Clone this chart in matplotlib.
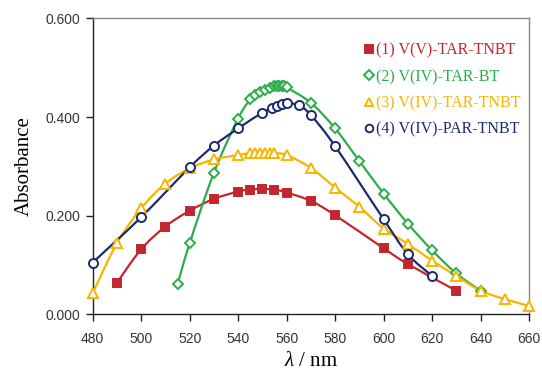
import numpy as np
import matplotlib
matplotlib.use("Agg")
import matplotlib.pyplot as plt
from matplotlib.path import Path
from matplotlib.patches import PathPatch

plt.rcParams["mathtext.fontset"] = "custom"
plt.rcParams["mathtext.it"] = "Liberation Serif:italic"
plt.rcParams["mathtext.rm"] = "Liberation Serif"

# ---- data ----
x1 = [490, 500, 510, 520, 530, 540, 545, 550, 555, 560, 570, 580, 600, 610, 630]
y1 = [0.064, 0.132, 0.178, 0.210, 0.234, 0.249, 0.253, 0.254, 0.253, 0.247, 0.230, 0.201, 0.134, 0.102, 0.048]

x2 = [515, 520, 530, 540, 545, 547, 549, 551, 553, 555, 556, 557, 558, 559, 560, 570, 580, 590, 600, 610, 620, 630, 640]
y2 = [0.061, 0.144, 0.287, 0.397, 0.436, 0.445, 0.451, 0.455, 0.459, 0.462, 0.463, 0.463, 0.463, 0.462, 0.460,
      0.429, 0.377, 0.311, 0.245, 0.184, 0.130, 0.083, 0.048]

x3 = [480, 490, 500, 510, 520, 530, 540, 545, 547, 549, 551, 553, 555, 560, 570, 580, 590, 600, 610, 620, 630, 640, 650, 660]
y3 = [0.043, 0.144, 0.215, 0.265, 0.296, 0.314, 0.323, 0.327, 0.328, 0.328, 0.328, 0.328, 0.327, 0.323,
      0.297, 0.257, 0.218, 0.174, 0.143, 0.109, 0.078, 0.048, 0.031, 0.017]

x4 = [480, 500, 520, 530, 540, 550, 554, 556, 558, 560, 565, 570, 580, 600, 610, 620]
y4 = [0.105, 0.197, 0.298, 0.342, 0.377, 0.409, 0.418, 0.423, 0.427, 0.428, 0.424, 0.404, 0.341, 0.193, 0.122, 0.078]

labels = ["(1) V(V)-TAR-TNBT", "(2) V(IV)-TAR-BT", "(3) V(IV)-TAR-TNBT", "(4) V(IV)-PAR-TNBT"]
xticks = [480, 500, 520, 540, 560, 580, 600, 620, 640, 660]
yticks = [0.0, 0.2, 0.4, 0.6]

colors = ["#C1272D", "#2BAE4A", "#F7B500", "#1E2A6E"]
markers = ["s", "D", "^", "o"]
msizes = [5.5, 5.5, 7, 6.5]
fills = [True, False, False, False]


def smooth_path(xs, ys, t=1.0 / 6.0):
    """Excel-like smoothed line (cubic Bezier through the data points)."""
    xs = np.asarray(xs, float)
    ys = np.asarray(ys, float)
    n = len(xs)
    verts = [(xs[0], ys[0])]
    codes = [Path.MOVETO]
    for i in range(n - 1):
        p0 = np.array([xs[max(i - 1, 0)], ys[max(i - 1, 0)]])
        p1 = np.array([xs[i], ys[i]])
        p2 = np.array([xs[i + 1], ys[i + 1]])
        p3 = np.array([xs[min(i + 2, n - 1)], ys[min(i + 2, n - 1)]])
        c1 = p1 + (p2 - p0) * t
        c2 = p2 - (p3 - p1) * t
        verts += [tuple(c1), tuple(c2), tuple(p2)]
        codes += [Path.CURVE4] * 3
    return Path(verts, codes)


fig = plt.figure(figsize=(5.42, 3.76), dpi=100)
ax = fig.add_axes([0.171, 0.164, 0.805, 0.787])

series = [(x1, y1), (x2, y2), (x3, y3), (x4, y4)]
for (xs, ys), c, m, ms, f, lab in zip(series, colors, markers, msizes, fills, labels):
    patch = PathPatch(smooth_path(xs, ys), facecolor="none", edgecolor=c, lw=1.6, zorder=2)
    ax.add_patch(patch)
    ax.plot(xs, ys, linestyle="none", marker=m, ms=ms, mec=c, mew=1.4,
            mfc=c if f else "white", label=lab, zorder=3, clip_on=False)

ax.set_xlim(480, 660)
ax.set_ylim(0, 0.6)
ax.set_xticks(xticks)
ax.set_yticks(yticks)
ax.set_xticklabels([str(v) for v in xticks])
ax.set_yticklabels(["%.3f" % v for v in yticks])

tick_color = "#333340"
ax.tick_params(axis="both", direction="out", length=5, width=1, colors="#222222",
               labelsize=10, labelcolor=tick_color)
ax.tick_params(axis="x", pad=8)
ax.tick_params(axis="y", pad=4)
for lbl in ax.get_xticklabels() + ax.get_yticklabels():
    lbl.set_family("Liberation Sans")

ax.spines["left"].set_color("#222222")
ax.spines["bottom"].set_color("#222222")
ax.spines["top"].set_color("#888888")
ax.spines["right"].set_color("#888888")
for s in ax.spines.values():
    s.set_linewidth(1.0)

ax.set_xlabel(r"$\lambda$ / nm", family="Liberation Serif", fontsize=15, labelpad=4)
ax.set_ylabel("Absorbance", family="Liberation Serif", fontsize=15, labelpad=8)

leg = ax.legend(loc="upper right", bbox_to_anchor=(0.995, 0.94), frameon=False,
                prop={"family": "Liberation Serif", "size": 11.5},
                handlelength=0.6, handletextpad=0.15, labelspacing=0.65, borderaxespad=0.0)
for txt, c in zip(leg.get_texts(), colors):
    txt.set_color(c)
for h in leg.legend_handles:
    h.set_markersize(5.5)

fig.savefig("out.png", dpi=100)
